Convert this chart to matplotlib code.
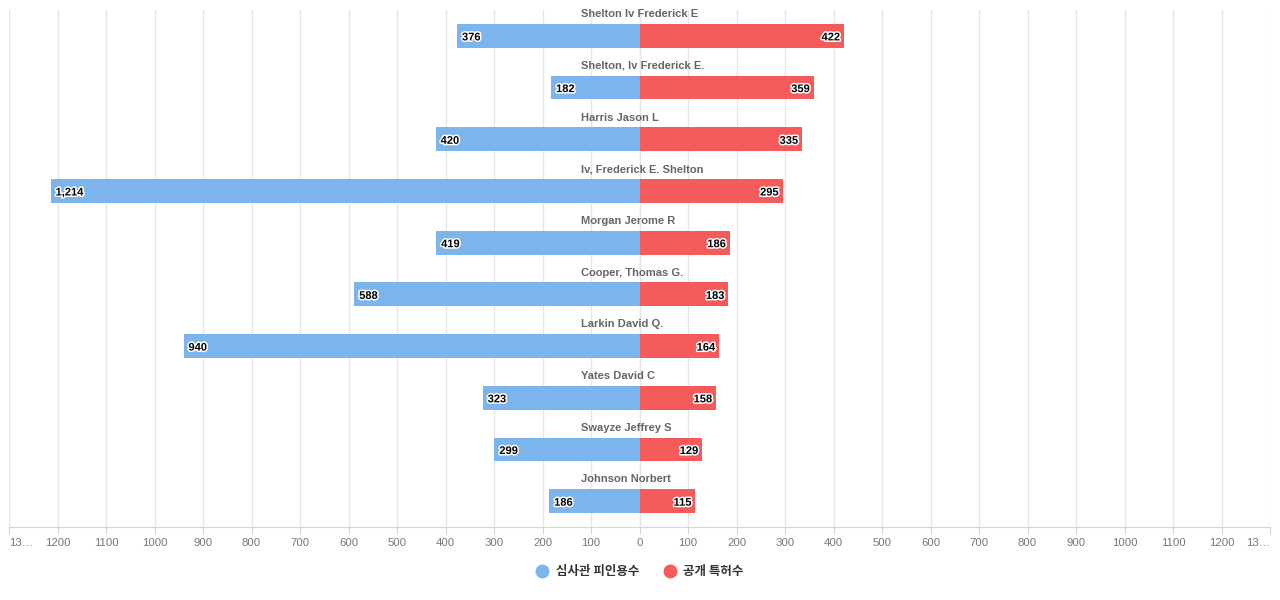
import numpy as np
import matplotlib.pyplot as plt
import matplotlib.patheffects as pe
from matplotlib.lines import Line2D

plt.rcParams['font.family'] = ['Noto Sans CJK KR', 'DejaVu Sans']

names = ["Shelton Iv Frederick E", "Shelton, Iv Frederick E.", "Harris Jason L",
         "Iv, Frederick E. Shelton", "Morgan Jerome R", "Cooper, Thomas G.",
         "Larkin David Q.", "Yates David C", "Swayze Jeffrey S", "Johnson Norbert"]
cited = [376, 182, 420, 1214, 419, 588, 940, 323, 299, 186]
patents = [422, 359, 335, 295, 186, 183, 164, 158, 129, 115]
series_names = ["심사관 피인용수", "공개 특허수"]

blue = "#7cb5ec"
red = "#f55b5b"
latin = ["Liberation Sans", "DejaVu Sans"]

fig = plt.figure(figsize=(12.8, 6), dpi=100)
ax = fig.add_axes([9/1280, 1 - 527/600, (1270-9)/1280, 517/600])

n = len(names)
y = np.arange(n)
h = 0.46
ax.barh(y, [-v for v in cited], height=h, color=blue, zorder=2)
ax.barh(y, patents, height=h, color=red, zorder=2)

stroke = [pe.withStroke(linewidth=2.2, foreground="white")]
for i in range(n):
    ax.text(-cited[i] + 10, y[i] + 0.03, f"{cited[i]:,}", ha="left", va="center",
            fontsize=8, fontweight="bold", color="black", path_effects=stroke, zorder=3,
            family=latin)
    ax.text(patents[i] - 8, y[i] + 0.03, f"{patents[i]:,}", ha="right", va="center",
            fontsize=8, fontweight="bold", color="black", path_effects=stroke, zorder=3,
            family=latin)
    ax.text(-121, y[i] - 0.42, names[i], ha="left", va="center", fontsize=8,
            fontweight="bold", color="#666666", zorder=3, family=latin)

ax.set_xlim(-1300, 1300)
ax.set_ylim(n - 0.5, -0.5)
ticks = np.arange(-1300, 1301, 100)
ax.set_xticks(ticks)
labels = [str(abs(t)) for t in ticks]
labels[0] = "13…"
labels[-1] = "13…"
ax.set_xticklabels(labels, fontsize=8.2, color="#777777", family=latin)
tl = ax.get_xticklabels()
tl[0].set_ha("left")
tl[-1].set_ha("right")
ax.set_yticks([])
ax.grid(axis="x", color="#e6e6e6", linewidth=1, zorder=0)
for s in ["top", "right", "left"]:
    ax.spines[s].set_visible(False)
ax.spines["bottom"].set_color("#ccd6eb")
ax.tick_params(axis="x", length=5, color="#ccd6eb", pad=3)
ax.axvline(0, color="#e6e6e6", linewidth=1, zorder=1)

handles = [Line2D([], [], marker="o", linestyle="", markersize=9, color=blue),
           Line2D([], [], marker="o", linestyle="", markersize=9, color=red)]
leg = fig.legend(handles, series_names, loc="center", bbox_to_anchor=(0.4975, 1 - 572/600),
                 ncol=2, frameon=False, handletextpad=0.1, columnspacing=1.4,
                 prop={"size": 9, "weight": "bold"})
for t in leg.get_texts():
    t.set_color("#333333")

fig.savefig("out.png", dpi=100)
